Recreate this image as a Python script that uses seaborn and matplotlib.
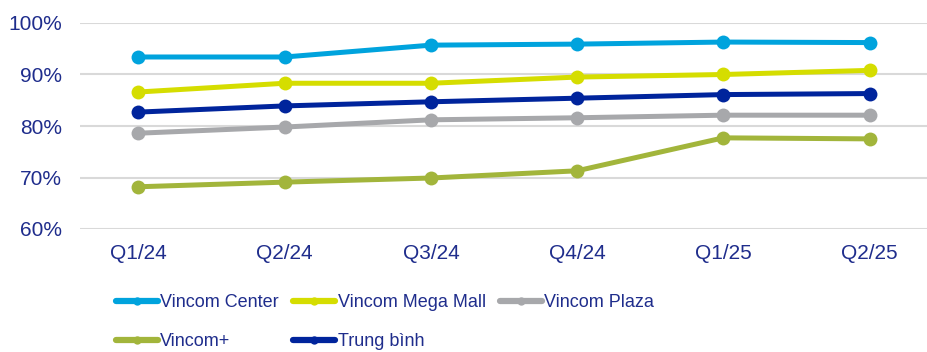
import pandas as pd
import matplotlib
matplotlib.use("Agg")
import matplotlib.pyplot as plt
import seaborn as sns

# Tỷ lệ lấp đầy theo quý
quarters = ["Q1/24", "Q2/24", "Q3/24", "Q4/24", "Q1/25", "Q2/25"]
vincom_center = [93.4, 93.4, 95.7, 95.9, 96.3, 96.2]
vincom_mega_mall = [86.6, 88.3, 88.3, 89.5, 90.0, 90.8]
vincom_plaza = [78.6, 79.8, 81.2, 81.6, 82.1, 82.1]
vincom_plus = [68.2, 69.1, 69.9, 71.3, 77.7, 77.5]
trung_binh = [82.7, 83.9, 84.7, 85.4, 86.1, 86.3]

series = ["Vincom Center", "Vincom Mega Mall", "Vincom Plaza", "Vincom+", "Trung bình"]
colors = ["#00A3DD", "#D5DD00", "#A7A8AB", "#A2B53B", "#00249C"]
text_color = "#1F2D8C"

df = pd.DataFrame({
    "Quarter": quarters * 5,
    "x": list(range(len(quarters))) * 5,
    "Value": vincom_center + vincom_mega_mall + vincom_plaza + vincom_plus + trung_binh,
    "Series": [s for s in series for _ in quarters],
})

sns.set_style("white")
plt.rcParams["font.family"] = ["Liberation Sans", "DejaVu Sans"]

fig = plt.figure(figsize=(9.28, 3.52), dpi=100)
ax = fig.add_axes([80 / 928, 1 - 229 / 352, 1 - 80 / 928, (229 - 23) / 352])

sns.lineplot(data=df, x="x", y="Value", hue="Series", hue_order=series,
             palette=colors, marker="o", markersize=10, linewidth=3.6,
             markeredgewidth=0, ax=ax, legend=False, zorder=3)

ax.set_xlim(-0.4, 5.4)
ax.set_ylim(60, 100)
ax.set_yticks([60, 70, 80, 90, 100])
ax.set_yticklabels([f"{v}%" for v in [60, 70, 80, 90, 100]])
ax.set_xticks(range(len(quarters)))
ax.set_xticklabels(quarters)
ax.tick_params(axis="both", length=0, labelsize=15, labelcolor=text_color)
ax.tick_params(axis="x", pad=11)
ax.tick_params(axis="y", pad=13)
ax.set_xlabel("")
ax.set_ylabel("")
ax.grid(axis="y", color="#D9D9D9", linewidth=1.5)
ax.grid(axis="x", visible=False)
for sp in ax.spines.values():
    sp.set_visible(False)

# legend thứ tự theo hàng (matplotlib điền theo cột)
order = [0, 3, 1, 4, 2]
handles = [plt.Line2D([], [], color=colors[i], linewidth=4.5, marker="o",
                      markersize=6, markeredgewidth=0) for i in order]
labels = [series[i] for i in order]
leg = fig.legend(handles, labels, loc="upper left", bbox_to_anchor=(0.125, 0.165),
                 ncol=3, frameon=False, handlelength=2.3, fontsize=13,
                 handletextpad=0.15, columnspacing=0.8, labelspacing=1.25,
                 borderaxespad=0, borderpad=0)
for t in leg.get_texts():
    t.set_color(text_color)

fig.savefig("out.png", dpi=100)
